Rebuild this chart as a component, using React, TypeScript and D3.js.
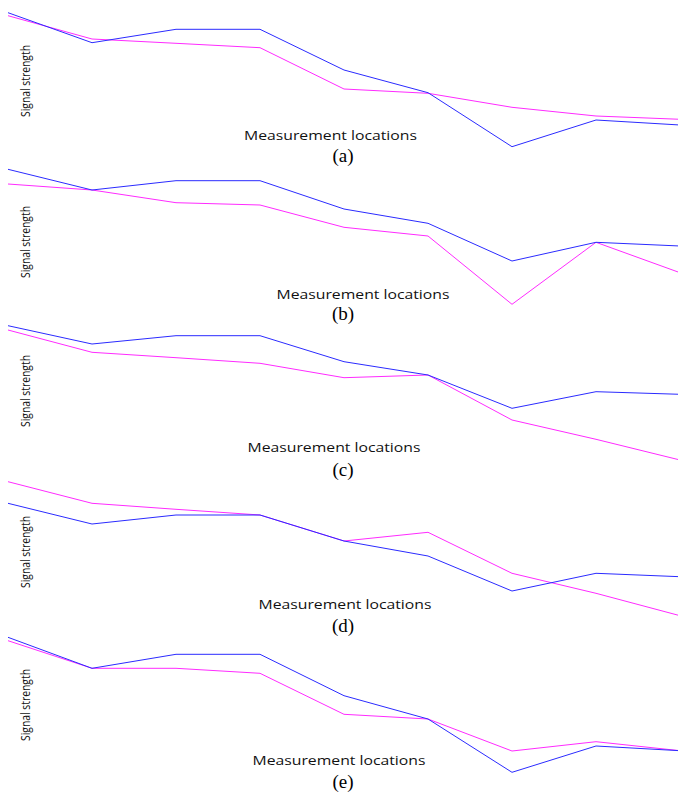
import React from "react";
import * as d3 from "d3";

// Measurement locations (index along the route)
const locations = [0, 1, 2, 3, 4, 5, 6, 7, 8];
const panelLabels = ["(a)", "(b)", "(c)", "(d)", "(e)"];
const xAxisTitle = "Measurement locations";
const yAxisTitle = "Signal strength";

// Signal strength (arbitrary units) for each panel
const blueA = [147.3, 117.3, 130.7, 130.7, 90, 67.3, 13.3, 40, 35];
const magentaA = [144.3, 121, 116.7, 112.3, 71, 66.7, 52.7, 44, 40.7];
const blueB = [147.7, 127, 136.3, 136.3, 108, 93.7, 56, 74.7, 71];
const magentaB = [133, 127, 114.3, 112, 89.7, 81, 12.7, 74.7, 44.3];
const blueC = [147.3, 129, 137.3, 137.3, 111.3, 98, 64.7, 81.3, 78.7];
const magentaC = [143, 120.7, 115.3, 109.7, 95.3, 98, 53, 33.7, 13];
const blueD = [126.7, 106, 115, 115, 89, 74, 39, 56.7, 53.3];
const magentaD = [148.3, 126.7, 120.7, 115, 89, 97.7, 56.7, 36.7, 14.3];
const blueE = [148.7, 117.7, 131.7, 131.7, 90.3, 67, 13.7, 40, 35.3];
const magentaE = [145.3, 117.7, 117.7, 112.7, 71.7, 67, 35, 44.3, 35.3];

const blueSeries = [blueA, blueB, blueC, blueD, blueE];
const magentaSeries = [magentaA, magentaB, magentaC, magentaD, magentaE];

// layout (pixels) of each panel
const layout = [
  { top: 0, yTitleY: 81, xTitleX: 330.5, xTitleY: 140, capY: 162 },
  { top: 157, yTitleY: 242, xTitleX: 363, xTitleY: 299, capY: 320 },
  { top: 313, yTitleY: 391, xTitleX: 334, xTitleY: 452, capY: 476 },
  { top: 470, yTitleY: 552, xTitleX: 345, xTitleY: 609, capY: 632 },
  { top: 626, yTitleY: 705, xTitleX: 339, xTitleY: 765, capY: 788 },
];

const W = 678;
const H = 796;

export default function App() {
  const x = d3.scaleLinear().domain([0, 8]).range([8, 680]);
  return (
    <svg
      width={W}
      height={H}
      viewBox={`0 0 ${W} ${H}`}
      style={{ position: "absolute", left: 0, top: 0, background: "#fff" }}
    >
      <rect x={0} y={0} width={W} height={H} fill="#fff" />
      {layout.map((p, i) => {
        const y = d3.scaleLinear().domain([0, 160]).range([p.top + 160, p.top]);
        const line = d3
          .line<number>()
          .x((_, k) => x(locations[k]))
          .y((v) => y(v));
        return (
          <g key={i}>
            <path d={line(magentaSeries[i]) || ""} fill="none" stroke="#ff2bff" strokeWidth={1} />
            <path d={line(blueSeries[i]) || ""} fill="none" stroke="#2b2bff" strokeWidth={1} />
            <text
              transform={`translate(30,${p.yTitleY}) rotate(-90)`}
              textAnchor="middle"
              fontFamily="'Open Sans', sans-serif"
              fontSize={13}
              textLength={72}
              lengthAdjust="spacingAndGlyphs"
              fill="#111"
            >
              {yAxisTitle}
            </text>
            <text
              x={p.xTitleX}
              y={p.xTitleY}
              textAnchor="middle"
              fontFamily="'Open Sans', sans-serif"
              fontSize={13}
              textLength={173}
              lengthAdjust="spacingAndGlyphs"
              fill="#111"
            >
              {xAxisTitle}
            </text>
            <text
              x={343}
              y={p.capY}
              textAnchor="middle"
              fontFamily="'Liberation Serif', 'Times New Roman', serif"
              fontSize={19}
              fill="#000"
            >
              {panelLabels[i]}
            </text>
          </g>
        );
      })}
    </svg>
  );
}
